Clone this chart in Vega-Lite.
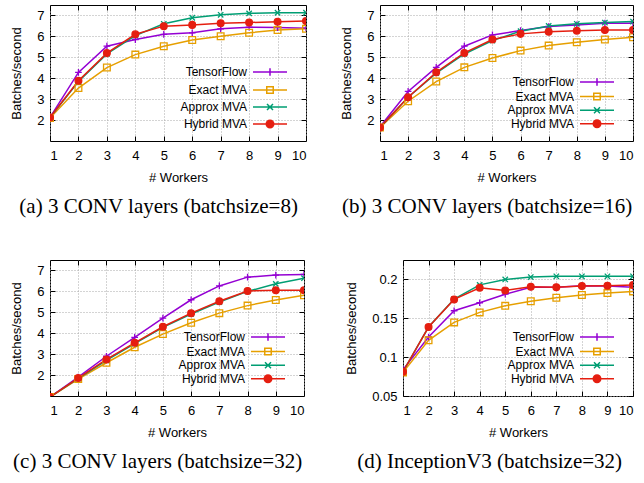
{
"$schema": "https://vega.github.io/schema/vega-lite/v6.json",
"padding": {"left": 10, "top": 4, "right": 0, "bottom": 0},
"background": "white",
"datasets": {
"a": [
{"w":1,"s":"TensorFlow","v":2.13},{"w":2,"s":"TensorFlow","v":4.28},{"w":3,"s":"TensorFlow","v":5.53},{"w":4,"s":"TensorFlow","v":5.85},{"w":5,"s":"TensorFlow","v":6.10},{"w":6,"s":"TensorFlow","v":6.17},{"w":7,"s":"TensorFlow","v":6.36},{"w":8,"s":"TensorFlow","v":6.44},{"w":9,"s":"TensorFlow","v":6.42},{"w":10,"s":"TensorFlow","v":6.39},
{"w":1,"s":"Exact MVA","v":2.10},{"w":2,"s":"Exact MVA","v":3.53},{"w":3,"s":"Exact MVA","v":4.51},{"w":4,"s":"Exact MVA","v":5.13},{"w":5,"s":"Exact MVA","v":5.53},{"w":6,"s":"Exact MVA","v":5.83},{"w":7,"s":"Exact MVA","v":6.01},{"w":8,"s":"Exact MVA","v":6.17},{"w":9,"s":"Exact MVA","v":6.30},{"w":10,"s":"Exact MVA","v":6.36},
{"w":1,"s":"Approx MVA","v":2.12},{"w":2,"s":"Approx MVA","v":3.84},{"w":3,"s":"Approx MVA","v":5.16},{"w":4,"s":"Approx MVA","v":6.04},{"w":5,"s":"Approx MVA","v":6.60},{"w":6,"s":"Approx MVA","v":6.89},{"w":7,"s":"Approx MVA","v":7.03},{"w":8,"s":"Approx MVA","v":7.10},{"w":9,"s":"Approx MVA","v":7.13},{"w":10,"s":"Approx MVA","v":7.13},
{"w":1,"s":"Hybrid MVA","v":2.12},{"w":2,"s":"Hybrid MVA","v":3.88},{"w":3,"s":"Hybrid MVA","v":5.20},{"w":4,"s":"Hybrid MVA","v":6.10},{"w":5,"s":"Hybrid MVA","v":6.49},{"w":6,"s":"Hybrid MVA","v":6.55},{"w":7,"s":"Hybrid MVA","v":6.63},{"w":8,"s":"Hybrid MVA","v":6.66},{"w":9,"s":"Hybrid MVA","v":6.70},{"w":10,"s":"Hybrid MVA","v":6.73}
],
"b": [
{"w":1,"s":"TensorFlow","v":1.68},{"w":2,"s":"TensorFlow","v":3.37},{"w":3,"s":"TensorFlow","v":4.52},{"w":4,"s":"TensorFlow","v":5.53},{"w":5,"s":"TensorFlow","v":6.07},{"w":6,"s":"TensorFlow","v":6.28},{"w":7,"s":"TensorFlow","v":6.47},{"w":8,"s":"TensorFlow","v":6.55},{"w":9,"s":"TensorFlow","v":6.63},{"w":10,"s":"TensorFlow","v":6.63},
{"w":1,"s":"Exact MVA","v":1.65},{"w":2,"s":"Exact MVA","v":2.90},{"w":3,"s":"Exact MVA","v":3.84},{"w":4,"s":"Exact MVA","v":4.52},{"w":5,"s":"Exact MVA","v":4.97},{"w":6,"s":"Exact MVA","v":5.32},{"w":7,"s":"Exact MVA","v":5.56},{"w":8,"s":"Exact MVA","v":5.72},{"w":9,"s":"Exact MVA","v":5.85},{"w":10,"s":"Exact MVA","v":5.96},
{"w":1,"s":"Approx MVA","v":1.65},{"w":2,"s":"Approx MVA","v":3.09},{"w":3,"s":"Approx MVA","v":4.24},{"w":4,"s":"Approx MVA","v":5.16},{"w":5,"s":"Approx MVA","v":5.80},{"w":6,"s":"Approx MVA","v":6.25},{"w":7,"s":"Approx MVA","v":6.50},{"w":8,"s":"Approx MVA","v":6.60},{"w":9,"s":"Approx MVA","v":6.66},{"w":10,"s":"Approx MVA","v":6.71},
{"w":1,"s":"Hybrid MVA","v":1.65},{"w":2,"s":"Hybrid MVA","v":3.09},{"w":3,"s":"Hybrid MVA","v":4.28},{"w":4,"s":"Hybrid MVA","v":5.21},{"w":5,"s":"Hybrid MVA","v":5.85},{"w":6,"s":"Hybrid MVA","v":6.12},{"w":7,"s":"Hybrid MVA","v":6.22},{"w":8,"s":"Hybrid MVA","v":6.27},{"w":9,"s":"Hybrid MVA","v":6.30},{"w":10,"s":"Hybrid MVA","v":6.31}
],
"c": [
{"w":1,"s":"TensorFlow","v":0.95},{"w":2,"s":"TensorFlow","v":1.90},{"w":3,"s":"TensorFlow","v":2.90},{"w":4,"s":"TensorFlow","v":3.80},{"w":5,"s":"TensorFlow","v":4.72},{"w":6,"s":"TensorFlow","v":5.60},{"w":7,"s":"TensorFlow","v":6.26},{"w":8,"s":"TensorFlow","v":6.68},{"w":9,"s":"TensorFlow","v":6.78},{"w":10,"s":"TensorFlow","v":6.81},
{"w":1,"s":"Exact MVA","v":0.95},{"w":2,"s":"Exact MVA","v":1.81},{"w":3,"s":"Exact MVA","v":2.59},{"w":4,"s":"Exact MVA","v":3.33},{"w":5,"s":"Exact MVA","v":3.96},{"w":6,"s":"Exact MVA","v":4.50},{"w":7,"s":"Exact MVA","v":4.96},{"w":8,"s":"Exact MVA","v":5.32},{"w":9,"s":"Exact MVA","v":5.59},{"w":10,"s":"Exact MVA","v":5.81},
{"w":1,"s":"Approx MVA","v":0.95},{"w":2,"s":"Approx MVA","v":1.84},{"w":3,"s":"Approx MVA","v":2.70},{"w":4,"s":"Approx MVA","v":3.50},{"w":5,"s":"Approx MVA","v":4.28},{"w":6,"s":"Approx MVA","v":4.92},{"w":7,"s":"Approx MVA","v":5.49},{"w":8,"s":"Approx MVA","v":6.00},{"w":9,"s":"Approx MVA","v":6.36},{"w":10,"s":"Approx MVA","v":6.63},
{"w":1,"s":"Hybrid MVA","v":0.95},{"w":2,"s":"Hybrid MVA","v":1.86},{"w":3,"s":"Hybrid MVA","v":2.75},{"w":4,"s":"Hybrid MVA","v":3.54},{"w":5,"s":"Hybrid MVA","v":4.31},{"w":6,"s":"Hybrid MVA","v":4.96},{"w":7,"s":"Hybrid MVA","v":5.53},{"w":8,"s":"Hybrid MVA","v":6.02},{"w":9,"s":"Hybrid MVA","v":6.05},{"w":10,"s":"Hybrid MVA","v":6.05}
],
"d": [
{"w":1,"s":"TensorFlow","v":0.0839},{"w":2,"s":"TensorFlow","v":0.1259},{"w":3,"s":"TensorFlow","v":0.1597},{"w":4,"s":"TensorFlow","v":0.170},{"w":5,"s":"TensorFlow","v":0.181},{"w":6,"s":"TensorFlow","v":0.190},{"w":7,"s":"TensorFlow","v":0.190},{"w":8,"s":"TensorFlow","v":0.192},{"w":9,"s":"TensorFlow","v":0.1914},{"w":10,"s":"TensorFlow","v":0.190},
{"w":1,"s":"Exact MVA","v":0.0804},{"w":2,"s":"Exact MVA","v":0.1216},{"w":3,"s":"Exact MVA","v":0.1447},{"w":4,"s":"Exact MVA","v":0.1576},{"w":5,"s":"Exact MVA","v":0.166},{"w":6,"s":"Exact MVA","v":0.172},{"w":7,"s":"Exact MVA","v":0.1764},{"w":8,"s":"Exact MVA","v":0.1799},{"w":9,"s":"Exact MVA","v":0.1824},{"w":10,"s":"Exact MVA","v":0.1846},
{"w":1,"s":"Approx MVA","v":0.0813},{"w":2,"s":"Approx MVA","v":0.1387},{"w":3,"s":"Approx MVA","v":0.1747},{"w":4,"s":"Approx MVA","v":0.193},{"w":5,"s":"Approx MVA","v":0.200},{"w":6,"s":"Approx MVA","v":0.203},{"w":7,"s":"Approx MVA","v":0.204},{"w":8,"s":"Approx MVA","v":0.204},{"w":9,"s":"Approx MVA","v":0.204},{"w":10,"s":"Approx MVA","v":0.204},
{"w":1,"s":"Hybrid MVA","v":0.0813},{"w":2,"s":"Hybrid MVA","v":0.1387},{"w":3,"s":"Hybrid MVA","v":0.1743},{"w":4,"s":"Hybrid MVA","v":0.1893},{"w":5,"s":"Hybrid MVA","v":0.1859},{"w":6,"s":"Hybrid MVA","v":0.1906},{"w":7,"s":"Hybrid MVA","v":0.190},{"w":8,"s":"Hybrid MVA","v":0.1914},{"w":9,"s":"Hybrid MVA","v":0.1919},{"w":10,"s":"Hybrid MVA","v":0.1927}
]
},
"spacing": 41,
"resolve": {"scale": {"color": "independent", "shape": "independent", "fill": "independent"}, "legend": {"color": "independent"}},
"vconcat": [
{
"bounds": "flush",
"spacing": 74,
"resolve": {"scale": {"color": "independent", "shape": "independent", "fill": "independent"}, "legend": {"color": "independent"}},
"hconcat": [
{
"width": 256, "height": 136,
"data": {"name": "a"},
"title": {"text": "(a) 3 CONV layers (batchsize=8)"},
"layer": [
{"mark": {"type": "line", "strokeWidth": 1.5, "clip": true},
"encoding": {
"x": {"field": "w", "type": "quantitative", "scale": {"domain": [1, 10], "nice": false, "zero": false}, "axis": {"values": [1,2,3,4,5,6,7,8,9,10], "title": "# Workers", "grid": true}},
"y": {"field": "v", "type": "quantitative", "scale": {"domain": [1, 7.5], "nice": false, "zero": false}, "axis": {"values": [2,3,4,5,6,7], "title": "Batches/second", "grid": true}},
"color": {"field": "s", "type": "nominal", "scale": {"domain": ["TensorFlow","Exact MVA","Approx MVA","Hybrid MVA"], "range": ["#9400d3","#e69f00","#009e73","#e51e10"]},
"legend": {"rowPadding": 4, "encode": {"symbols": {"update": {
"shape": {"signal": "datum.value === 'TensorFlow' ? 'M-3.4,0H3.4M0,-0.75V0.75M4.6,0' : datum.value === 'Exact MVA' ? 'M-3.4,0H3.4M-0.65,-0.65H0.65V0.65H-0.65ZM4.6,0' : datum.value === 'Approx MVA' ? 'M-3.4,0H3.4M-0.6,-0.6L0.6,0.6M-0.6,0.6L0.6,-0.6M4.6,0' : 'M-3.4,0H3.4M-0.75,0A0.75,0.75,0,1,0,0.75,0A0.75,0.75,0,1,0,-0.75,0ZM4.6,0'"},
"fill": {"signal": "datum.value === 'Hybrid MVA' ? '#e51e10' : 'transparent'"}}}}}}
}},
{"mark": {"type": "point", "filled": false, "strokeWidth": 1.3, "opacity": 1, "size": 45, "clip": true},
"encoding": {
"x": {"field": "w", "type": "quantitative", "axis": {"orient": "top", "values": [1,2,3,4,5,6,7,8,9,10], "labels": false, "title": null, "grid": false}},
"y": {"field": "v", "type": "quantitative", "axis": {"orient": "right", "values": [2,3,4,5,6,7], "labels": false, "title": null, "grid": false}},
"color": {"field": "s", "type": "nominal", "legend": null},
"shape": {"field": "s", "type": "nominal", "scale": {"range": ["M-0.8,-0.8L0.8,0.8M-0.8,0.8L0.8,-0.8","M-1,-1H1V1H-1Z","circle","M-1,0H1M0,-1V1"]}, "legend": null},
"fill": {"field": "s", "type": "nominal", "scale": {"range": ["transparent","transparent","#e51e10","transparent"]}, "legend": null}
}}
],
"resolve": {"axis": {"x": "independent", "y": "independent"}}
},
{
"width": 253, "height": 136,
"data": {"name": "b"},
"title": {"text": "(b) 3 CONV layers (batchsize=16)"},
"layer": [
{"mark": {"type": "line", "strokeWidth": 1.5, "clip": true},
"encoding": {
"x": {"field": "w", "type": "quantitative", "scale": {"domain": [1, 10], "nice": false, "zero": false}, "axis": {"values": [1,2,3,4,5,6,7,8,9,10], "title": "# Workers", "grid": true}},
"y": {"field": "v", "type": "quantitative", "scale": {"domain": [1, 7.5], "nice": false, "zero": false}, "axis": {"values": [2,3,4,5,6,7], "title": "Batches/second", "grid": true}},
"color": {"field": "s", "type": "nominal", "scale": {"domain": ["TensorFlow","Exact MVA","Approx MVA","Hybrid MVA"], "range": ["#9400d3","#e69f00","#009e73","#e51e10"]},
"legend": {"rowPadding": 0.6, "encode": {"symbols": {"update": {
"shape": {"signal": "datum.value === 'TensorFlow' ? 'M-3.4,0H3.4M0,-0.75V0.75M4.6,0' : datum.value === 'Exact MVA' ? 'M-3.4,0H3.4M-0.65,-0.65H0.65V0.65H-0.65ZM4.6,0' : datum.value === 'Approx MVA' ? 'M-3.4,0H3.4M-0.6,-0.6L0.6,0.6M-0.6,0.6L0.6,-0.6M4.6,0' : 'M-3.4,0H3.4M-0.75,0A0.75,0.75,0,1,0,0.75,0A0.75,0.75,0,1,0,-0.75,0ZM4.6,0'"},
"fill": {"signal": "datum.value === 'Hybrid MVA' ? '#e51e10' : 'transparent'"}}}}}}
}},
{"mark": {"type": "point", "filled": false, "strokeWidth": 1.3, "opacity": 1, "size": 45, "clip": true},
"encoding": {
"x": {"field": "w", "type": "quantitative", "axis": {"orient": "top", "values": [1,2,3,4,5,6,7,8,9,10], "labels": false, "title": null, "grid": false}},
"y": {"field": "v", "type": "quantitative", "axis": {"orient": "right", "values": [2,3,4,5,6,7], "labels": false, "title": null, "grid": false}},
"color": {"field": "s", "type": "nominal", "legend": null},
"shape": {"field": "s", "type": "nominal", "scale": {"range": ["M-0.8,-0.8L0.8,0.8M-0.8,0.8L0.8,-0.8","M-1,-1H1V1H-1Z","circle","M-1,0H1M0,-1V1"]}, "legend": null},
"fill": {"field": "s", "type": "nominal", "scale": {"range": ["transparent","transparent","#e51e10","transparent"]}, "legend": null}
}}
],
"resolve": {"axis": {"x": "independent", "y": "independent"}}
}
]
},
{
"bounds": "flush",
"spacing": 99,
"resolve": {"scale": {"color": "independent", "shape": "independent", "fill": "independent"}, "legend": {"color": "independent"}},
"hconcat": [
{
"width": 254, "height": 136,
"data": {"name": "c"},
"title": {"text": "(c) 3 CONV layers (batchsize=32)"},
"layer": [
{"mark": {"type": "line", "strokeWidth": 1.5, "clip": true},
"encoding": {
"x": {"field": "w", "type": "quantitative", "scale": {"domain": [1, 10], "nice": false, "zero": false}, "axis": {"values": [1,2,3,4,5,6,7,8,9,10], "title": "# Workers", "grid": true}},
"y": {"field": "v", "type": "quantitative", "scale": {"domain": [1, 7.5], "nice": false, "zero": false}, "axis": {"values": [2,3,4,5,6,7], "title": "Batches/second", "grid": true}},
"color": {"field": "s", "type": "nominal", "scale": {"domain": ["TensorFlow","Exact MVA","Approx MVA","Hybrid MVA"], "range": ["#9400d3","#e69f00","#009e73","#e51e10"]},
"legend": {"rowPadding": 0.6, "encode": {"symbols": {"update": {
"shape": {"signal": "datum.value === 'TensorFlow' ? 'M-3.4,0H3.4M0,-0.75V0.75M4.6,0' : datum.value === 'Exact MVA' ? 'M-3.4,0H3.4M-0.65,-0.65H0.65V0.65H-0.65ZM4.6,0' : datum.value === 'Approx MVA' ? 'M-3.4,0H3.4M-0.6,-0.6L0.6,0.6M-0.6,0.6L0.6,-0.6M4.6,0' : 'M-3.4,0H3.4M-0.75,0A0.75,0.75,0,1,0,0.75,0A0.75,0.75,0,1,0,-0.75,0ZM4.6,0'"},
"fill": {"signal": "datum.value === 'Hybrid MVA' ? '#e51e10' : 'transparent'"}}}}}}
}},
{"mark": {"type": "point", "filled": false, "strokeWidth": 1.3, "opacity": 1, "size": 45, "clip": true},
"encoding": {
"x": {"field": "w", "type": "quantitative", "axis": {"orient": "top", "values": [1,2,3,4,5,6,7,8,9,10], "labels": false, "title": null, "grid": false}},
"y": {"field": "v", "type": "quantitative", "axis": {"orient": "right", "values": [2,3,4,5,6,7], "labels": false, "title": null, "grid": false}},
"color": {"field": "s", "type": "nominal", "legend": null},
"shape": {"field": "s", "type": "nominal", "scale": {"range": ["M-0.8,-0.8L0.8,0.8M-0.8,0.8L0.8,-0.8","M-1,-1H1V1H-1Z","circle","M-1,0H1M0,-1V1"]}, "legend": null},
"fill": {"field": "s", "type": "nominal", "scale": {"range": ["transparent","transparent","#e51e10","transparent"]}, "legend": null}
}}
],
"resolve": {"axis": {"x": "independent", "y": "independent"}}
},
{
"width": 230, "height": 136,
"data": {"name": "d"},
"title": {"text": "(d) InceptionV3 (batchsize=32)"},
"layer": [
{"mark": {"type": "line", "strokeWidth": 1.5, "clip": true},
"encoding": {
"x": {"field": "w", "type": "quantitative", "scale": {"domain": [1, 10], "nice": false, "zero": false}, "axis": {"values": [1,2,3,4,5,6,7,8,9,10], "title": "# Workers", "grid": true}},
"y": {"field": "v", "type": "quantitative", "scale": {"domain": [0.05, 0.225], "nice": false, "zero": false}, "axis": {"values": [0.05,0.1,0.15,0.2], "format": ".2~f", "title": "Batches/second", "grid": true}},
"color": {"field": "s", "type": "nominal", "scale": {"domain": ["TensorFlow","Exact MVA","Approx MVA","Hybrid MVA"], "range": ["#9400d3","#e69f00","#009e73","#e51e10"]},
"legend": {"rowPadding": 0.6, "encode": {"symbols": {"update": {
"shape": {"signal": "datum.value === 'TensorFlow' ? 'M-3.4,0H3.4M0,-0.75V0.75M4.6,0' : datum.value === 'Exact MVA' ? 'M-3.4,0H3.4M-0.65,-0.65H0.65V0.65H-0.65ZM4.6,0' : datum.value === 'Approx MVA' ? 'M-3.4,0H3.4M-0.6,-0.6L0.6,0.6M-0.6,0.6L0.6,-0.6M4.6,0' : 'M-3.4,0H3.4M-0.75,0A0.75,0.75,0,1,0,0.75,0A0.75,0.75,0,1,0,-0.75,0ZM4.6,0'"},
"fill": {"signal": "datum.value === 'Hybrid MVA' ? '#e51e10' : 'transparent'"}}}}}}
}},
{"mark": {"type": "point", "filled": false, "strokeWidth": 1.3, "opacity": 1, "size": 45, "clip": true},
"encoding": {
"x": {"field": "w", "type": "quantitative", "axis": {"orient": "top", "values": [1,2,3,4,5,6,7,8,9,10], "labels": false, "title": null, "grid": false}},
"y": {"field": "v", "type": "quantitative", "axis": {"orient": "right", "values": [0.05,0.1,0.15,0.2], "labels": false, "title": null, "grid": false}},
"color": {"field": "s", "type": "nominal", "legend": null},
"shape": {"field": "s", "type": "nominal", "scale": {"range": ["M-0.8,-0.8L0.8,0.8M-0.8,0.8L0.8,-0.8","M-1,-1H1V1H-1Z","circle","M-1,0H1M0,-1V1"]}, "legend": null},
"fill": {"field": "s", "type": "nominal", "scale": {"range": ["transparent","transparent","#e51e10","transparent"]}, "legend": null}
}}
],
"resolve": {"axis": {"x": "independent", "y": "independent"}}
}
]
}
],
"config": {
"font": "Liberation Sans",
"view": {"stroke": "black", "strokeWidth": 1},
"axis": {"labelFont": "Liberation Sans", "labelFontSize": 13, "labelColor": "black", "titleFont": "Liberation Sans", "titleFontSize": 13, "titleFontWeight": "normal", "titleColor": "black", "domain": false, "tickColor": "black", "tickSize": -5, "tickWidth": 1, "gridColor": "#a8a8a8", "gridDash": [1, 2], "gridWidth": 1},
"axisX": {"labelPadding": 13, "titlePadding": 9},
"axisY": {"labelPadding": 11, "titlePadding": 13},
"legend": {"orient": "bottom-right", "title": null, "offset": 10, "padding": 0, "labelFont": "Liberation Sans", "labelFontSize": 12, "labelColor": "black", "labelAlign": "right", "labelOffset": -29, "labelLimit": 200, "symbolSize": 100, "symbolStrokeWidth": 1.5, "symbolOffset": 11},
"title": {"font": "Liberation Serif", "fontSize": 21, "fontWeight": "normal", "color": "black", "orient": "bottom", "frame": "bounds", "offset": 12}
}
}
